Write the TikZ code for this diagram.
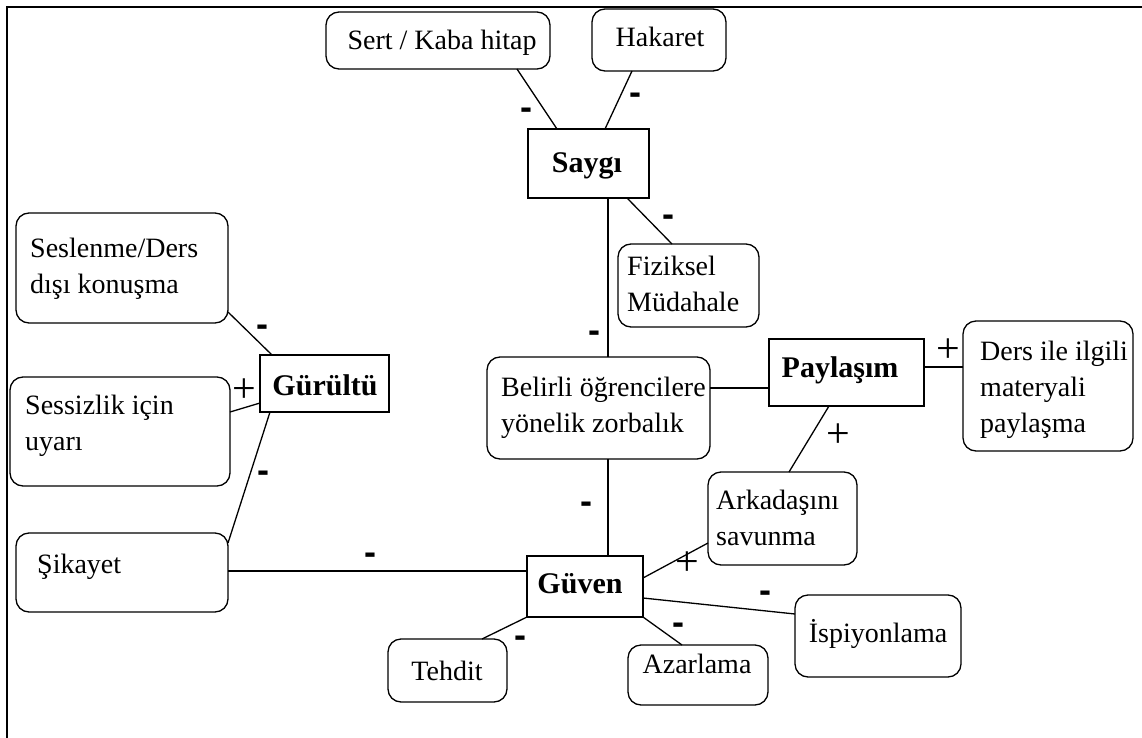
\documentclass[tikz,border=0pt]{standalone}
\usepackage{fontspec}
\setmainfont{Liberation Serif}
\newfontfamily\signfont{Liberation Sans}
\usetikzlibrary{calc}
\begin{document}
\begin{tikzpicture}[x=1pt,y=-1pt,
  rbox/.style={draw,line width=1.3pt,rounded corners=13pt,inner sep=0pt,outer sep=0pt},
  sbox/.style={draw,line width=1.3pt,inner sep=0pt,outer sep=0pt},
  txt/.style={font=\fontsize{28}{36}\selectfont,inner sep=0pt,align=left},
  btxt/.style={font=\bfseries\fontsize{30}{36}\selectfont,inner sep=0pt},
  link/.style={line width=1.3pt},
  minus/.style={font=\signfont\bfseries\fontsize{36}{36}\selectfont,inner sep=0pt,anchor=base,yshift=-9.5pt},
  plus/.style={font=\fontsize{42}{42}\selectfont,inner sep=0pt,anchor=base,yshift=-10.5pt}]
\useasboundingbox (0,0) rectangle (1142,738);
% outer frame (top and left edges only)
\draw[line width=2.2pt] (7,738) -- (7,7) -- (1142,7);

% ---- boxes ----
\node[rbox,minimum width=224pt,minimum height=57pt] (sert) at (438,40.5) {};
\node[rbox,minimum width=134pt,minimum height=62pt] (hakaret) at (659,40) {};
\node[sbox,minimum width=121pt,minimum height=69pt] (saygi) at (588.5,163.5) {};
\node[rbox,minimum width=141pt,minimum height=83pt] (fiziksel) at (688.5,285.5) {};
\node[rbox,minimum width=212pt,minimum height=110pt] (seslenme) at (122,268) {};
\node[sbox,minimum width=129pt,minimum height=57pt] (gurultu) at (324.5,383.5) {};
\node[rbox,minimum width=220pt,minimum height=109pt] (sessizlik) at (120,431.5) {};
\node[rbox,minimum width=212pt,minimum height=79pt] (sikayet) at (122,572.5) {};
\node[rbox,minimum width=223pt,minimum height=102pt] (belirli) at (598.5,408) {};
\node[sbox,minimum width=155pt,minimum height=67pt] (paylasim) at (846.5,372.5) {};
\node[rbox,minimum width=170pt,minimum height=130pt] (ders) at (1048,386) {};
\node[rbox,minimum width=149pt,minimum height=93pt] (arkadas) at (782.5,518.5) {};
\node[sbox,minimum width=116pt,minimum height=61pt] (guven) at (585,586.5) {};
\node[rbox,minimum width=119pt,minimum height=63pt] (tehdit) at (447.5,670.5) {};
\node[rbox,minimum width=140pt,minimum height=60pt] (azarlama) at (698,675) {};
\node[rbox,minimum width=166pt,minimum height=82pt] (ispiyon) at (878,636) {};

% ---- texts (multi-line texts are placed by their last baseline) ----
\node[txt,anchor=base] (t-sert) at (442,50) {Sert / Kaba hitap};
\node[txt,anchor=base] (t-hakaret) at (660,47) {Hakaret};
\node[btxt,anchor=base] (t-saygi) at (587,173) {Saygı};
\node[txt,anchor=base west] (t-fiziksel) at (627,311) {Fiziksel\\Müdahale};
\node[txt,anchor=base west] (t-seslenme) at (30,293) {Seslenme/Ders\\dışı konuşma};
\node[btxt,anchor=base] (t-gurultu) at (325,395) {Gürültü};
\node[txt,anchor=base west] (t-sessizlik) at (25,450) {Sessizlik için\\uyarı};
\node[txt,anchor=base west] (t-sikayet) at (37,573) {Şikayet};
\node[txt,anchor=base west] (t-belirli) at (501,432) {Belirli öğrencilere\\yönelik zorbalık};
\node[btxt,anchor=base] (t-paylasim) at (840,377) {Paylaşım};
\node[txt,anchor=base west] (t-ders) at (980,432) {Ders ile ilgili\\materyali\\paylaşma};
\node[txt,anchor=base west] (t-arkadas) at (716,545) {Arkadaşını\\savunma};
\node[btxt,anchor=base] (t-guven) at (580,593) {Güven};
\node[txt,anchor=base] (t-tehdit) at (447,680) {Tehdit};
\node[txt,anchor=base] (t-azarlama) at (697,673) {Azarlama};
\node[txt,anchor=base] (t-ispiyon) at (878,642) {İspiyonlama};

% ---- connectors ----
\draw[link] ([xshift=79pt]sert.south) -- ([xshift=-31.5pt]saygi.north);
\draw[link] ([xshift=-27pt]hakaret.south) -- ([xshift=16.5pt]saygi.north);
\draw[link] ([xshift=38.5pt]saygi.south) -- ([xshift=-16.5pt]fiziksel.north);
\draw[link] ([xshift=19.5pt]saygi.south) -- ([xshift=19.5pt]saygi.south |- belirli.north);
\draw[link] ([yshift=-44pt]seslenme.east) -- ([xshift=-52.5pt]gurultu.north);
\draw[link] ([yshift=19.5pt]sessizlik.east) -- ([yshift=-19.5pt]gurultu.west);
\draw[link] ([xshift=-54.5pt]gurultu.south) -- ([yshift=29.5pt]sikayet.east);
\draw[link] ([yshift=1.5pt]sikayet.east) -- ([yshift=1.5pt]sikayet.east -| guven.west);
\draw[link] ([xshift=9.5pt]belirli.south) -- ([xshift=9.5pt]belirli.south |- guven.north);
\draw[link] ([yshift=20pt]belirli.east) -- ([yshift=20pt]belirli.east -| paylasim.west);
\draw[link] ([yshift=5.5pt]paylasim.east) -- ([yshift=5.5pt]paylasim.east -| ders.west);
\draw[link] ([xshift=-17.5pt]paylasim.south) -- ([xshift=6.5pt]arkadas.north);
\draw[link] ([yshift=8.5pt]guven.east) -- ([yshift=-24.5pt]arkadas.west);
\draw[link] ([yshift=-11.5pt]guven.east) -- ([yshift=22pt]ispiyon.west);
\draw[link] (guven.south west) -- ([xshift=34.5pt]tehdit.north);
\draw[link] (guven.south east) -- ([xshift=-16pt]azarlama.north);

% ---- signs on the connectors ----
\node[minus] (s1) at (526,110) {-};
\node[minus] (s2) at (635,95) {-};
\node[minus] (s3) at (668,217) {-};
\node[minus] (s4) at (594,333) {-};
\node[minus] (s5) at (262,327) {-};
\node[plus] (s6) at (244,392) {+};
\node[minus] (s7) at (263,473) {-};
\node[minus] (s8) at (370,555) {-};
\node[minus] (s9) at (586,504) {-};
\node[plus] (s10) at (948,352) {+};
\node[plus] (s11) at (838,437) {+};
\node[plus] (s12) at (687,565) {+};
\node[minus] (s13) at (765,593) {-};
\node[minus] (s14) at (520,638) {-};
\node[minus] (s15) at (678,625) {-};
\end{tikzpicture}
\end{document}
